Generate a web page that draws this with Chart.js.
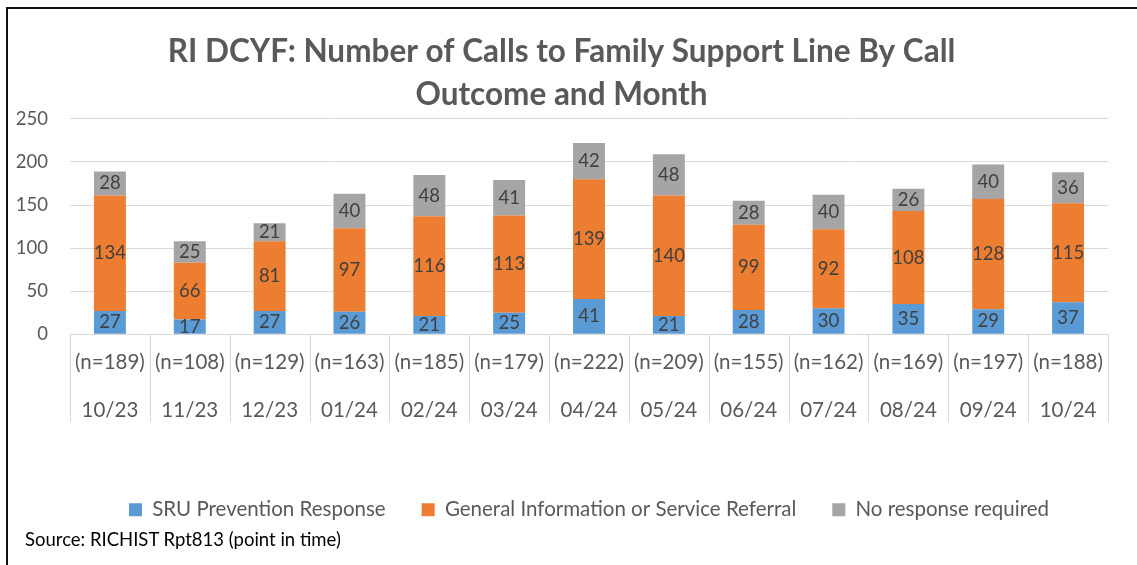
<!DOCTYPE html>
<html>
<head>
<meta charset="utf-8">
<script src="https://cdn.jsdelivr.net/npm/chart.js@4"></script>
<style>
  html, body { margin: 0; padding: 0; background: #fff; }
  #wrap { position: relative; width: 1137px; height: 565px; overflow: hidden; }
  #frame { position: absolute; left: 6px; top: 7px; width: 1200px; height: 600px;
           border-top: 2px solid #111; border-left: 2px solid #111; }
  canvas { position: absolute; left: 0; top: 0; }
  #source { position: absolute; left: 25px; top: 528px; font: 18.5px Lato, "Open Sans", sans-serif;
            color: #000; white-space: nowrap; }
</style>
</head>
<body>
<div id="wrap">
  <div id="frame"></div>
  <canvas id="calls" width="1137" height="565"></canvas>
  <div id="source">Source: RICHIST Rpt813 (point in time)</div>
</div>
<script>
// months and totals (two-row category labels)
const months = ['10/23', '11/23', '12/23', '01/24', '02/24', '03/24', '04/24', '05/24', '06/24', '07/24', '08/24', '09/24', '10/24'];
const totals = ['(n=189)', '(n=108)', '(n=129)', '(n=163)', '(n=185)', '(n=179)', '(n=222)', '(n=209)', '(n=155)', '(n=162)', '(n=169)', '(n=197)', '(n=188)'];

const sruPrevention = [27, 17, 27, 26, 21, 25, 41, 21, 28, 30, 35, 29, 37];
const generalInfo = [134, 66, 81, 97, 116, 113, 139, 140, 99, 92, 108, 128, 115];
const noResponse = [28, 25, 21, 40, 48, 41, 42, 48, 28, 40, 26, 40, 36];

const yTicks = [0, 50, 100, 150, 200, 250];

const FONT = 'Lato, "Open Sans", sans-serif';

// value labels in the middle of each segment
const segmentLabels = {
    id: 'segmentLabels',
    afterDatasetsDraw(chart) {
        const ctx = chart.ctx;
        ctx.save();
        ctx.font = '18.5px ' + FONT;
        ctx.fillStyle = '#404040';
        ctx.textAlign = 'center';
        ctx.textBaseline = 'middle';
        chart.data.datasets.forEach((ds, i) => {
            const meta = chart.getDatasetMeta(i);
            meta.data.forEach((bar, j) => {
                ctx.fillText(ds.data[j], bar.x, (bar.y + bar.base) / 2);
            });
        });
        ctx.restore();
    }
};

// vertical dividers between the categories, below the axis
const categoryDividers = {
    id: 'categoryDividers',
    afterDraw(chart) {
        const x = chart.scales.x;
        const ctx = chart.ctx;
        ctx.save();
        ctx.strokeStyle = '#D9D9D9';
        ctx.lineWidth = 1;
        ctx.beginPath();
        for (let i = 0; i <= months.length; i++) {
            const px = Math.round(x.getPixelForValue(i - 0.5)) + 0.5;
            ctx.moveTo(px, x.top);
            ctx.lineTo(px, x.top + 88);
        }
        ctx.stroke();
        ctx.restore();
    }
};

const chart = new Chart(document.getElementById('calls').getContext('2d'), {
    type: 'bar',
    data: {
        labels: months.map((m, i) => [totals[i], m]),
        datasets: [{
            label: 'SRU Prevention Response',
            data: sruPrevention,
            backgroundColor: '#5B9BD5'
        }, {
            label: 'General Information or Service Referral',
            data: generalInfo,
            backgroundColor: '#ED7D31'
        }, {
            label: 'No response required',
            data: noResponse,
            backgroundColor: '#A5A5A5'
        }]
    },
    options: {
        responsive: false,
        animation: false,
        datasets: {
            bar: { barPercentage: 0.8, categoryPercentage: 0.5 }
        },
        layout: {
            padding: { left: 15, right: 29, top: 30, bottom: 35 }
        },
        plugins: {
            title: {
                display: true,
                text: ['RI DCYF: Number of Calls to Family Support Line By Call', 'Outcome and Month'],
                color: '#595959',
                font: { family: FONT, size: 31.5, weight: 'bold', lineHeight: 1.38 },
                padding: { top: 0, bottom: 2 }
            },
            legend: {
                position: 'bottom',
                fullSize: false,
                labels: {
                    color: '#595959',
                    font: { family: FONT, size: 20.5 },
                    boxWidth: 13,
                    boxHeight: 13,
                    padding: 36
                }
            },
            tooltip: { enabled: false }
        },
        scales: {
            x: {
                stacked: true,
                grid: { display: false, drawTicks: false },
                border: { display: false },
                afterFit(axis) {
                    axis.height += 25;
                },
                ticks: {
                    color: '#595959',
                    font: { family: FONT, size: 20.5, lineHeight: 2.3 },
                    padding: 5,
                    maxRotation: 0,
                    autoSkip: false
                }
            },
            y: {
                stacked: true,
                min: 0,
                max: 250,
                afterBuildTicks(axis) {
                    axis.ticks = yTicks.map(v => ({ value: v }));
                },
                afterFit(axis) {
                    axis.width = 55;
                },
                grid: { color: '#D9D9D9', drawTicks: false },
                border: { display: false },
                ticks: {
                    color: '#595959',
                    font: { family: FONT, size: 18.5 },
                    padding: 22
                }
            }
        }
    },
    plugins: [segmentLabels, categoryDividers]
});
</script>
</body>
</html>
